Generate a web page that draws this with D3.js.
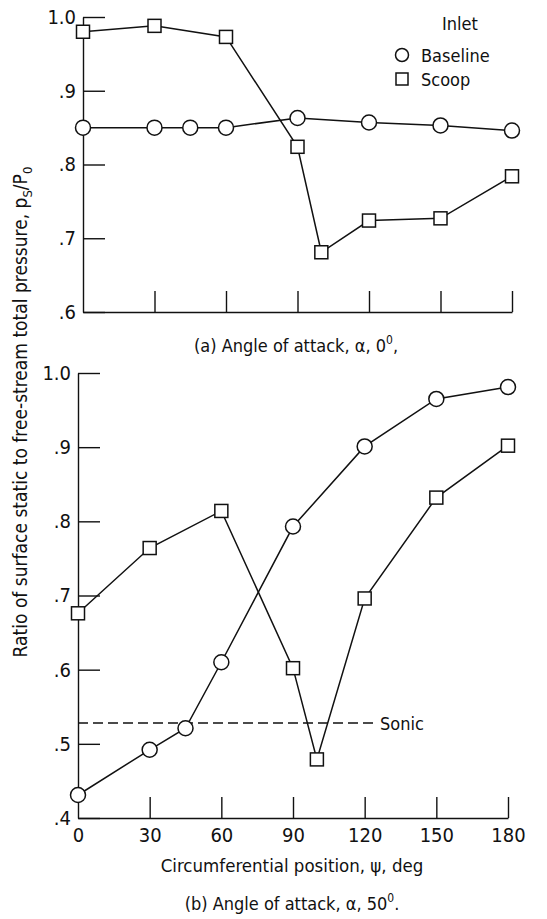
<!DOCTYPE html>
<html>
<head>
<meta charset="utf-8">
<script src="https://cdn.jsdelivr.net/npm/d3@7/dist/d3.min.js"></script>
<style>
  html, body { margin: 0; padding: 0; background: #fff; }
  svg { display: block; }
  text { font-family: "DejaVu Sans Condensed", "Liberation Sans Narrow", "DejaVu Sans", sans-serif; fill: #111; }
</style>
</head>
<body>
<svg id="chart" width="547" height="919"></svg>
<script>
// Panel (a): angle of attack 0 deg — circumferential position (deg) and p_s/P_0
const baselineA = [
  { psi: 0, v: 0.850 }, { psi: 30, v: 0.850 }, { psi: 45, v: 0.850 }, { psi: 60, v: 0.850 },
  { psi: 90, v: 0.863 }, { psi: 120, v: 0.857 }, { psi: 150, v: 0.853 }, { psi: 180, v: 0.846 }
];
const scoopA = [
  { psi: 0, v: 0.980 }, { psi: 30, v: 0.988 }, { psi: 60, v: 0.973 }, { psi: 90, v: 0.824 },
  { psi: 100, v: 0.681 }, { psi: 120, v: 0.724 }, { psi: 150, v: 0.727 }, { psi: 180, v: 0.784 }
];

// Panel (b): angle of attack 50 deg
const baselineB = [
  { psi: 0, v: 0.431 }, { psi: 30, v: 0.492 }, { psi: 45, v: 0.521 }, { psi: 60, v: 0.610 },
  { psi: 90, v: 0.793 }, { psi: 120, v: 0.901 }, { psi: 150, v: 0.965 }, { psi: 180, v: 0.981 }
];
const scoopB = [
  { psi: 0, v: 0.676 }, { psi: 30, v: 0.764 }, { psi: 60, v: 0.814 }, { psi: 90, v: 0.602 },
  { psi: 100, v: 0.479 }, { psi: 120, v: 0.696 }, { psi: 150, v: 0.832 }, { psi: 180, v: 0.902 }
];
const sonicValue = 0.528;
const sonicEnd = 123.5;   // dashed line runs from 0 deg to here, then the label

const xTicks = [0, 30, 60, 90, 120, 150, 180];
const xTickLabels = ["0", "30", "60", "90", "120", "150", "180"];
const yTicksA = [0.6, 0.7, 0.8, 0.9, 1.0];
const yTicksB = [0.4, 0.5, 0.6, 0.7, 0.8, 0.9, 1.0];
const yTickLabel = d => d === 1 ? "1.0" : "." + Math.round(d * 10);

const svg = d3.select("#chart");
const tickFont = '"DejaVu Sans Condensed", "Liberation Sans Narrow", sans-serif';

function drawPanel(cfg) {
  const x = d3.scaleLinear().domain([0, 180]).range(cfg.xRange);
  const y = d3.scaleLinear().domain(cfg.yDomain).range(cfg.yRange);
  const g = svg.append("g");

  // y axis with inward ticks
  const ya = g.append("g")
    .attr("transform", `translate(${cfg.xRange[0]},0)`)
    .call(d3.axisLeft(y).tickValues(cfg.yTicks).tickFormat(yTickLabel)
      .tickSizeInner(-22).tickSizeOuter(0).tickPadding(7));
  ya.selectAll("path, line").attr("stroke", "#111").attr("stroke-width", 1.4);
  ya.selectAll("text").attr("font-size", 20).attr("fill", "#111")
    .style("font-family", tickFont);

  // x axis with inward ticks
  const xa = g.append("g")
    .attr("transform", `translate(0,${cfg.yRange[0]})`)
    .call(d3.axisBottom(x).tickValues(xTicks)
      .tickFormat((d, i) => cfg.showXLabels ? xTickLabels[i] : "")
      .tickSizeInner(-21).tickSizeOuter(0).tickPadding(10));
  xa.selectAll("path, line").attr("stroke", "#111").attr("stroke-width", 1.4);
  xa.selectAll(".tick").filter(d => d === 0).select("line").remove();
  xa.selectAll("text").attr("font-size", 20).attr("fill", "#111")
    .style("font-family", tickFont);

  if (cfg.sonic !== undefined) {
    g.append("line")
      .attr("x1", x(0)).attr("x2", x(sonicEnd))
      .attr("y1", y(cfg.sonic)).attr("y2", y(cfg.sonic))
      .attr("stroke", "#111").attr("stroke-width", 1.4)
      .attr("stroke-dasharray", "10,5");
    g.append("text")
      .attr("x", x(sonicEnd) + 7).attr("y", y(cfg.sonic) + 7)
      .attr("font-size", 18).text("Sonic");
  }

  const line = d3.line().x(d => x(d.psi)).y(d => y(d.v));
  [cfg.baseline, cfg.scoop].forEach(s => {
    g.append("path").datum(s).attr("d", line)
      .attr("fill", "none").attr("stroke", "#111").attr("stroke-width", 1.5);
  });

  g.selectAll("circle.pt").data(cfg.baseline).join("circle")
    .attr("class", "pt")
    .attr("cx", d => x(d.psi)).attr("cy", d => y(d.v)).attr("r", 7.5)
    .attr("fill", "#fff").attr("stroke", "#111").attr("stroke-width", 1.5);

  const s = 13;
  g.selectAll("rect.pt").data(cfg.scoop).join("rect")
    .attr("class", "pt")
    .attr("x", d => x(d.psi) - s / 2).attr("y", d => y(d.v) - s / 2)
    .attr("width", s).attr("height", s)
    .attr("fill", "#fff").attr("stroke", "#111").attr("stroke-width", 1.5);
}

drawPanel({
  xRange: [83, 512], yDomain: [0.6, 1.0], yRange: [312, 17], yTicks: yTicksA,
  baseline: baselineA, scoop: scoopA, showXLabels: false
});
drawPanel({
  xRange: [78, 508], yDomain: [0.4, 1.0], yRange: [818, 373], yTicks: yTicksB,
  baseline: baselineB, scoop: scoopB, showXLabels: true, sonic: sonicValue
});

// Legend
const leg = svg.append("g");
leg.append("text").attr("x", 460).attr("y", 30).attr("text-anchor", "middle")
  .attr("font-size", 18).text("Inlet");
leg.append("circle").attr("cx", 402).attr("cy", 55).attr("r", 6.5)
  .attr("fill", "#fff").attr("stroke", "#111").attr("stroke-width", 1.5);
leg.append("text").attr("x", 421).attr("y", 62).attr("font-size", 18).text("Baseline");
leg.append("rect").attr("x", 396).attr("y", 73).attr("width", 12).attr("height", 12)
  .attr("fill", "#fff").attr("stroke", "#111").attr("stroke-width", 1.5);
leg.append("text").attr("x", 421).attr("y", 86).attr("font-size", 18).text("Scoop");

// Captions
const capA = svg.append("text").attr("x", 296).attr("y", 352)
  .attr("text-anchor", "middle").attr("font-size", 18);
capA.append("tspan").text("(a) Angle of attack,  α,  0");
capA.append("tspan").attr("dy", -8).attr("font-size", 12).text("0");
capA.append("tspan").attr("dy", 8).text(",");

const capB = svg.append("text").attr("x", 292).attr("y", 910)
  .attr("text-anchor", "middle").attr("font-size", 18);
capB.append("tspan").text("(b) Angle of attack,  α,  50");
capB.append("tspan").attr("dy", -8).attr("font-size", 12).text("0");
capB.append("tspan").attr("dy", 8).text(".");

svg.append("text").attr("x", 292).attr("y", 872).attr("text-anchor", "middle")
  .attr("font-size", 18.5).text("Circumferential position,  ψ,  deg");

// Y axis title
const yt = svg.append("text")
  .attr("transform", "translate(27,412) rotate(-90)")
  .attr("text-anchor", "middle").attr("font-size", 19);
yt.append("tspan").text("Ratio of surface static to free-stream total pressure,  p");
yt.append("tspan").attr("dy", 5).attr("font-size", 13).text("S");
yt.append("tspan").attr("dy", -5).text("/P");
yt.append("tspan").attr("dy", 5).attr("font-size", 13).text("0");
</script>
</body>
</html>
